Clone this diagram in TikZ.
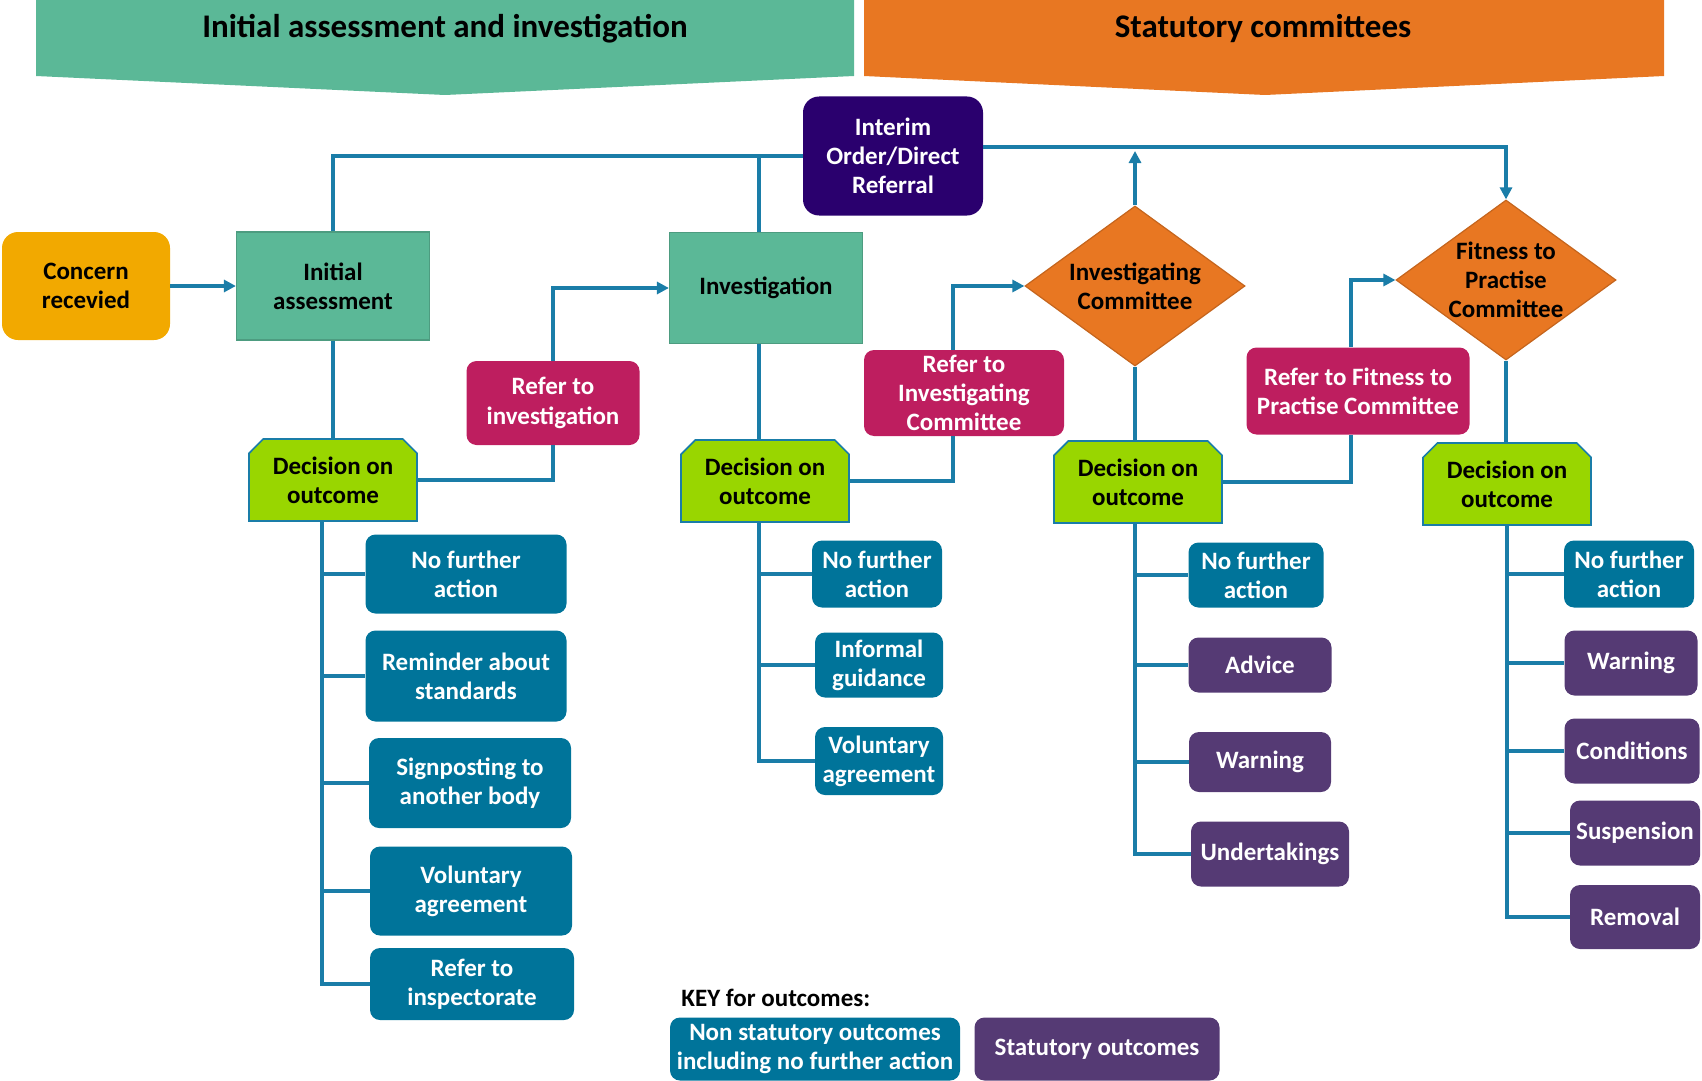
\documentclass[tikz,border=0pt]{standalone}
\usepackage{fontspec}
\setmainfont{Carlito}
\usetikzlibrary{shapes.geometric,shapes.misc,arrows.meta}

\definecolor{bandgreen}{RGB}{91,184,151}
\definecolor{bandorange}{RGB}{232,119,34}
\definecolor{concernyellow}{RGB}{242,169,0}
\definecolor{interimpurple}{RGB}{42,0,110}
\definecolor{refermagenta}{RGB}{190,30,95}
\definecolor{decisionlime}{RGB}{153,214,0}
\definecolor{outteal}{RGB}{0,116,154}
\definecolor{outpurple}{RGB}{85,58,116}
\definecolor{linkblue}{RGB}{26,125,168}

\tikzset{
  box/.style={align=center, font=\fontsize{12.5}{14.6}\selectfont\bfseries, inner sep=2pt},
  band/.style={font=\fontsize{16.5}{19}\selectfont\bfseries},
  stagebox/.style={box, rectangle, fill=bandgreen, draw=bandgreen!85!black, line width=0.6pt},
  roundbox/.style={box, rectangle, rounded corners=5pt, text=white},
  refer/.style={roundbox, fill=refermagenta},
  nonstat/.style={roundbox, fill=outteal},
  stat/.style={roundbox, fill=outpurple},
  committee/.style={box, diamond, aspect=1.36, fill=bandorange, draw=bandorange!85!black, line width=0.6pt,
    minimum width=110pt, minimum height=80pt, inner sep=-5pt},
  decision/.style={box, chamfered rectangle, chamfered rectangle corners={north west,north east},
    chamfered rectangle xsep=4pt, fill=decisionlime, draw=linkblue, line width=0.8pt,
    minimum width=84pt, minimum height=41pt},
  link/.style={draw=linkblue, line width=2.1pt}
}

\begin{document}
\begin{tikzpicture}[x=0.5pt, y=-0.5pt, >={Triangle[length=6pt,width=6pt]}]
\useasboundingbox (0,0) rectangle (1702,1081);

% Header bands
\fill[bandgreen] (36,0) -- (854,0) -- (854,76) -- (445,95) -- (36,76) -- cycle;
\fill[bandorange] (864,0) -- (1664,0) -- (1664,76) -- (1265,95) -- (864,76) -- cycle;
\node[band] (bandleft) at (445,29) {Initial assessment and investigation};
\node[band] (bandright) at (1263,29) {Statutory committees};

% Main route
\node[box, fill=concernyellow, rounded corners=8pt, minimum width=84pt, minimum height=54pt] (concern) at (86,286) {Concern\\recevied};
\node[stagebox, minimum width=96.5pt, minimum height=54pt] (initial) at (333,286) {Initial\\assessment};
\node[roundbox, fill=interimpurple, rounded corners=8pt, minimum width=90pt, minimum height=59.5pt] (interim) at (893,156) {Interim\\Order/Direct\\Referral};
\node[stagebox, minimum width=96.5pt, minimum height=55.5pt] (investigation) at (766,288) {Investigation};
\node[refer, minimum width=86.5pt, minimum height=42pt] (refinv) at (553,403) {Refer to\\investigation};
\node[refer, minimum width=100pt, minimum height=43pt] (refic) at (964,393) {Refer to\\Investigating\\Committee};
\node[refer, minimum width=111.5pt, minimum height=43.5pt] (refftp) at (1358,391) {Refer to Fitness to\\Practise Committee};
\node[committee] (ic) at (1135,286) {Investigating\\Committee};
\node[committee] (ftp) at (1506,280) {Fitness to\\Practise\\Committee};

% Decisions
\node[decision] (dec1) at (333,480) {Decision on\\outcome};
\node[decision] (dec2) at (765,481) {Decision on\\outcome};
\node[decision] (dec3) at (1138,482) {Decision on\\outcome};
\node[decision] (dec4) at (1507,484) {Decision on\\outcome};

% Outcomes after initial assessment
\node[nonstat, minimum width=100.5pt, minimum height=39.5pt] (nfa1) at (466,574) {No further\\action};
\node[nonstat, minimum width=100.5pt, minimum height=45.5pt] (rem1) at (466,676) {Reminder about\\standards};
\node[nonstat, minimum width=101pt, minimum height=45pt] (sign1) at (470,783) {Signposting to\\another body};
\node[nonstat, minimum width=101pt, minimum height=44.5pt] (vol1) at (471,891) {Voluntary\\agreement};
\node[nonstat, minimum width=102pt, minimum height=36pt] (insp1) at (472,984) {Refer to\\inspectorate};

% Outcomes after investigation
\node[nonstat, minimum width=65pt, minimum height=33.5pt] (nfa2) at (877,574) {No further\\action};
\node[nonstat, minimum width=64pt, minimum height=32.5pt] (guid2) at (879,665) {Informal\\guidance};
\node[nonstat, minimum width=64pt, minimum height=34pt] (vol2) at (879,761) {Voluntary\\agreement};

% Outcomes after investigating committee
\node[nonstat, minimum width=67.5pt, minimum height=32.5pt] (nfa3) at (1256,575) {No further\\action};
\node[stat, minimum width=71.5pt, minimum height=27.5pt] (adv3) at (1260,665) {Advice};
\node[stat, minimum width=71pt, minimum height=30pt] (warn3) at (1260,762) {Warning};
\node[stat, minimum width=79pt, minimum height=32.5pt] (und3) at (1270,854) {Undertakings};

% Outcomes after fitness to practise committee
\node[nonstat, minimum width=65pt, minimum height=33.5pt] (nfa4) at (1629,574) {No further\\action};
\node[stat, minimum width=66.5pt, minimum height=32.5pt] (warn4) at (1631,663) {Warning};
\node[stat, minimum width=67.5pt, minimum height=32.5pt] (cond4) at (1632,751) {Conditions};
\node[stat, minimum width=65pt, minimum height=32.5pt] (susp4) at (1635,833) {Suspension};
\node[stat, minimum width=65pt, minimum height=32pt] (rem4) at (1635,917) {Removal};

% Key
\node[box, anchor=west, inner sep=0pt] (keytitle) at (681,998) {KEY for outcomes:};
\node[nonstat, minimum width=145pt, minimum height=31.5pt] (keynon) at (815,1049) {Non statutory outcomes\\including no further action};
\node[stat, minimum width=122.5pt, minimum height=31.5pt] (keystat) at (1097,1049) {Statutory outcomes};

% Connectors
\coordinate (ictip) at (1135,151);
\draw[link] (interim.west) -| (initial.north);
\draw[link] ([xshift=-3.5pt]investigation.north) -- ([xshift=-3.5pt]investigation.north |- interim.west);
\draw[link,->] ([yshift=4.5pt]interim.east) -| (ftp.north);
\draw[link,->] (ic.north) -- (ictip);
\draw[link,->] (concern.east) -- (initial.west);
\draw[link] (initial.south) -- (initial.south |- dec1.north);
\draw[link] (dec1.east) -| (refinv.south);
\draw[link,->] (refinv.north) |- (investigation.west);
\draw[link] ([xshift=-3.5pt]investigation.south) -- ([xshift=-3.5pt]investigation.south |- dec2.north);
\draw[link] (dec2.east) -| ([xshift=-5.5pt]refic.south);
\draw[link,->] ([xshift=-5.5pt]refic.north) |- (ic.west);
\draw[link] (ic.south) -- (ic.south |- dec3.north);
\draw[link] (dec3.east) -| ([xshift=-3.5pt]refftp.south);
\draw[link,->] ([xshift=-3.5pt]refftp.north) |- (ftp.west);
\draw[link] (ftp.south) -- (ftp.south |- dec4.north);

% Outcome trunks
\foreach \b in {nfa1,rem1,sign1,vol1,insp1}
  \draw[link] ([xshift=-5.5pt]dec1.south) |- (\b.west);
\foreach \b in {nfa2,guid2,vol2}
  \draw[link] ([xshift=-3pt]dec2.south) |- (\b.west);
\foreach \b in {nfa3,adv3,warn3,und3}
  \draw[link] ([xshift=-1.5pt]dec3.south) |- (\b.west);
\foreach \b in {nfa4,warn4,cond4,susp4,rem4}
  \draw[link] (dec4.south) |- (\b.west);
\end{tikzpicture}
\end{document}
